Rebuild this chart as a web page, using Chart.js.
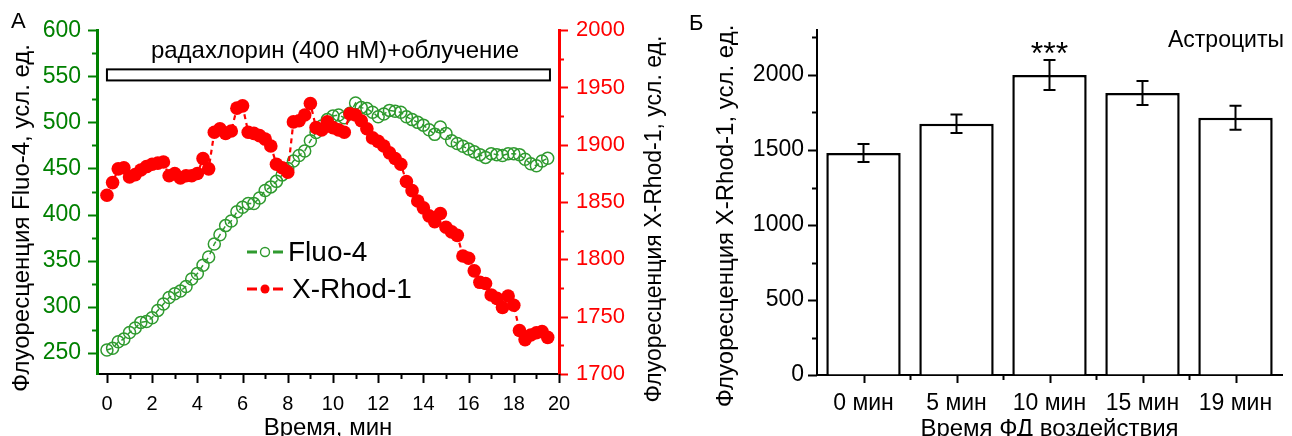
<!DOCTYPE html>
<html><head><meta charset="utf-8">
<script src="https://cdn.jsdelivr.net/npm/chart.js@4.4.1/dist/chart.umd.min.js"></script>
<style>
html,body{margin:0;padding:0;background:#fff;overflow:hidden}
#wrap{position:relative;width:1292px;height:436px;background:#fff}
#cA{position:absolute;left:0;top:0}
#cB{position:absolute;left:680px;top:0}
</style></head><body>
<div id="wrap"><canvas id="cA" width="680" height="436"></canvas><canvas id="cB" width="612" height="436"></canvas></div>
<script>
// ---- Panel A data ----
const timeMin = [0,0.25,0.5,0.75,1,1.25,1.5,1.75,2,2.25,2.5,2.75,3,3.25,3.5,3.75,4,4.25,4.5,4.75,5,5.25,5.5,5.75,6,6.25,6.5,6.75,7,7.25,7.5,7.75,8,8.25,8.5,8.75,9,9.25,9.5,9.75,10,10.25,10.5,10.75,11,11.25,11.5,11.75,12,12.25,12.5,12.75,13,13.25,13.5,13.75,14,14.25,14.5,14.75,15,15.25,15.5,15.75,16,16.25,16.5,16.75,17,17.25,17.5,17.75,18,18.25,18.5,18.75,19,19.25,19.5];
const fluo4 = [253,255,262,265,272,277,283,284,288,296,303,310,314,317,322,330,336,345,354,368,378,388,393,403,408,412,412,418,426,430,436,443,450,458,464,469,480,489,496,503,507,508,505,510,521,516,515,511,506,509,513,512,511,506,503,500,497,492,487,495,488,480,477,474,471,468,465,462,466,465,464,466,466,465,460,455,453,458,461];
const xRhod1 = [1856,1867,1879,1880,1872,1874,1878,1881,1883,1884,1885,1873,1875,1871,1873,1873,1875,1888,1879,1911,1914,1910,1912,1932,1934,1911,1910,1908,1905,1899,1883,1880,1876,1920,1921,1926,1936,1915,1913,1920,1915,1913,1911,1927,1926,1921,1914,1906,1903,1899,1893,1888,1883,1868,1860,1851,1845,1838,1833,1840,1828,1824,1821,1803,1801,1790,1780,1779,1769,1766,1758,1768,1760,1738,1730,1734,1736,1737,1732];
const timeTicks = [0,1,2,3,4,5,6,7,8,9,10,11,12,13,14,15,16,17,18,19,20];
const fluoTicks = [250,275,300,325,350,375,400,425,450,475,500,525,550,575,600];
const rhodTicks = [1700,1725,1750,1775,1800,1825,1850,1875,1900,1925,1950,1975,2000];
const treatmentLabel = 'радахлорин (400 нМ)+облучение';
const treatmentSpan = [0, 19.6];

// ---- Panel B data ----
const barCategories = ['0 мин','5 мин','10 мин','15 мин','19 мин'];
const barValues = [1480,1675,2000,1880,1715];
const barErrors = [60,62,100,80,80];
const barTicks = [0,250,500,750,1000,1250,1500,1750,2000,2250];

const FONT = "'Liberation Sans', Arial, sans-serif";
const GREEN = '#008000', RED = '#ff0000', LGREEN = '#2f9a2f';

function tickMarks(ctx, scale, values, isMajor, side, color, width) {
  ctx.save();
  ctx.strokeStyle = color; ctx.lineWidth = width;
  values.forEach(v => {
    const len = isMajor(v) ? 9 : 5;
    const p = scale.getPixelForValue(v);
    ctx.beginPath();
    if (side === 'left') { ctx.moveTo(scale.right, Math.round(p)+0.5); ctx.lineTo(scale.right - len, Math.round(p)+0.5); }
    else if (side === 'right') { ctx.moveTo(scale.left, Math.round(p)+0.5); ctx.lineTo(scale.left + len, Math.round(p)+0.5); }
    else { ctx.moveTo(Math.round(p)+0.5, scale.top); ctx.lineTo(Math.round(p)+0.5, scale.top + len); }
    ctx.stroke();
  });
  ctx.restore();
}
function vText(ctx, text, x, y, size, color) {
  ctx.save();
  ctx.translate(x, y); ctx.rotate(-Math.PI/2);
  ctx.font = size + 'px ' + FONT; ctx.fillStyle = color;
  ctx.textAlign = 'center'; ctx.textBaseline = 'middle';
  ctx.fillText(text, 0, 0);
  ctx.restore();
}

const decorA = {
  id: 'decorA',
  afterDraw(chart) {
    const ctx = chart.ctx, s = chart.scales;
    tickMarks(ctx, s.y, fluoTicks, v => v % 50 === 0, 'left', GREEN, 2);
    tickMarks(ctx, s.y1, rhodTicks, v => v % 50 === 0, 'right', RED, 2);
    tickMarks(ctx, s.x, timeTicks, v => v % 2 === 0, 'down', '#000', 2);
    // treatment bar
    const x0 = s.x.getPixelForValue(treatmentSpan[0]), x1 = s.x.getPixelForValue(treatmentSpan[1]);
    const yT = s.y.getPixelForValue(557.5), yB = s.y.getPixelForValue(545.5);
    ctx.save();
    ctx.fillStyle = '#fff'; ctx.strokeStyle = '#000'; ctx.lineWidth = 2;
    ctx.fillRect(x0, yT, x1 - x0, yB - yT); ctx.strokeRect(x0, yT, x1 - x0, yB - yT);
    ctx.font = '24px ' + FONT; ctx.fillStyle = '#000'; ctx.textAlign = 'center'; ctx.textBaseline = 'alphabetic';
    ctx.fillText(treatmentLabel, 335, 58);
    // legend
    const items = [
      {y: 252, color: LGREEN, text: 'Fluo-4', filled: false, tx: 288},
      {y: 289, color: RED, text: 'X-Rhod-1', filled: true, tx: 292}
    ];
    items.forEach(it => {
      ctx.strokeStyle = it.color; ctx.lineWidth = 3;
      ctx.beginPath(); ctx.moveTo(247, it.y); ctx.lineTo(257, it.y); ctx.moveTo(273, it.y); ctx.lineTo(283, it.y); ctx.stroke();
      ctx.beginPath(); ctx.arc(265, it.y, 4.5, 0, Math.PI*2);
      if (it.filled) { ctx.fillStyle = it.color; ctx.fill(); }
      else { ctx.lineWidth = 1.4; ctx.stroke(); }
      ctx.fillStyle = '#000'; ctx.font = '28px ' + FONT; ctx.textAlign = 'left'; ctx.textBaseline = 'middle';
      ctx.fillText(it.text, it.tx, it.y + 1);
    });
    // titles
    vText(ctx, 'Флуоресценция Fluo-4, усл. ед.', 22, 218, 24, '#000');
    vText(ctx, 'Флуоресценция X-Rhod-1, усл. ед.', 655, 219, 23, '#000');
    ctx.font = '24px ' + FONT; ctx.fillStyle = '#000'; ctx.textAlign = 'center'; ctx.textBaseline = 'alphabetic';
    ctx.fillText('Время, мин', (chart.chartArea.left + chart.chartArea.right) / 2, 435);
    ctx.font = '22px ' + FONT; ctx.textAlign = 'left';
    ctx.fillText('А', 11, 28);
    ctx.restore();
  }
};

new Chart(document.getElementById('cA'), {
  type: 'line',
  data: { datasets: [
    { label: 'X-Rhod-1', data: timeMin.map((t, i) => ({x: t, y: xRhod1[i]})), yAxisID: 'y1', order: 0,
      borderColor: RED, borderWidth: 2.2, borderDash: [5, 4], tension: 0,
      pointRadius: 6.8, pointBackgroundColor: RED, pointBorderColor: RED, pointBorderWidth: 0 },
    { label: 'Fluo-4', data: timeMin.map((t, i) => ({x: t, y: fluo4[i]})), yAxisID: 'y', order: 1,
      borderColor: LGREEN, borderWidth: 1.5, borderDash: [5, 4], tension: 0,
      pointRadius: 6, pointBackgroundColor: 'rgba(255,255,255,0)', pointBorderColor: LGREEN, pointBorderWidth: 1.5 }
  ]},
  options: {
    responsive: false, animation: false, devicePixelRatio: 1,
    layout: { padding: { top: 30, left: 0, right: 0, bottom: 0 } },
    plugins: { legend: { display: false }, tooltip: { enabled: false } },
    scales: {
      x: { type: 'linear', position: 'bottom', min: -0.44, max: 20,
        afterBuildTicks: sc => { sc.ticks = timeTicks.map(v => ({value: v})); },
        afterFit: sc => { sc.height = 62; },
        ticks: { autoSkip: false, maxRotation: 0, padding: 18, color: '#000', font: {family: FONT, size: 20},
          callback: v => (v % 2 === 0 ? String(v) : '') },
        grid: { display: true, drawOnChartArea: false, drawTicks: false },
        border: { display: true, color: '#000', width: 2 } },
      y: { type: 'linear', position: 'left', min: 227, max: 600,
        afterBuildTicks: sc => { sc.ticks = fluoTicks.map(v => ({value: v})); },
        afterFit: sc => { sc.width = 97; },
        ticks: { autoSkip: false, padding: 16, color: GREEN, font: {family: FONT, size: 23},
          callback: v => (v % 50 === 0 ? String(v) : '') },
        grid: { display: true, drawOnChartArea: false, drawTicks: false },
        border: { display: true, color: GREEN, width: 3 } },
      y1: { type: 'linear', position: 'right', min: 1700, max: 2000,
        afterBuildTicks: sc => { sc.ticks = rhodTicks.map(v => ({value: v})); },
        afterFit: sc => { sc.width = 121; },
        ticks: { autoSkip: false, padding: 17, color: RED, font: {family: FONT, size: 22},
          callback: v => (v % 50 === 0 ? String(v) : '') },
        grid: { display: true, drawOnChartArea: false, drawTicks: false },
        border: { display: true, color: RED, width: 3 } }
    }
  },
  plugins: [decorA]
});

const decorB = {
  id: 'decorB',
  afterDraw(chart) {
    const ctx = chart.ctx, s = chart.scales;
    tickMarks(ctx, s.y, barTicks, v => v % 500 === 0, 'left', '#000', 2);
    // category ticks: centres (major) and boundaries (minor)
    ctx.save();
    ctx.strokeStyle = '#000'; ctx.lineWidth = 2;
    const meta = chart.getDatasetMeta(0);
    barCategories.forEach((c, i) => {
      const xc = s.x.getPixelForValue(i);
      ctx.beginPath(); ctx.moveTo(Math.round(xc)+0.5, s.x.top); ctx.lineTo(Math.round(xc)+0.5, s.x.top + 8); ctx.stroke();
      if (i < barCategories.length - 1) {
        const xb = (xc + s.x.getPixelForValue(i + 1)) / 2;
        ctx.beginPath(); ctx.moveTo(Math.round(xb)+0.5, s.x.top); ctx.lineTo(Math.round(xb)+0.5, s.x.top + 5); ctx.stroke();
      }
    });
    // error bars
    ctx.lineWidth = 2;
    barValues.forEach((v, i) => {
      const x = meta.data[i].x;
      const yt = s.y.getPixelForValue(v + barErrors[i]), yb = s.y.getPixelForValue(v - barErrors[i]);
      ctx.beginPath();
      ctx.moveTo(x, yt); ctx.lineTo(x, yb);
      ctx.moveTo(x - 6, yt); ctx.lineTo(x + 6, yt);
      ctx.moveTo(x - 6, yb); ctx.lineTo(x + 6, yb);
      ctx.stroke();
    });
    // significance mark
    ctx.fillStyle = '#000'; ctx.textAlign = 'center'; ctx.textBaseline = 'alphabetic';
    ctx.font = '32px ' + FONT;
    ctx.fillText('***', meta.data[2].x, 64);
    ctx.font = '23px ' + FONT;
    ctx.fillText('Астроциты', 546, 47);
    vText(ctx, 'Флуоресценция X-Rhod-1, усл. ед.', 46, 216, 24, '#000');
    ctx.font = '24px ' + FONT; ctx.textAlign = 'center';
    ctx.fillText('Время ФД воздействия', (chart.chartArea.left + chart.chartArea.right) / 2, 436);
    ctx.font = '22px ' + FONT; ctx.textAlign = 'left';
    ctx.fillText('Б', 9, 30);
    ctx.restore();
  }
};

new Chart(document.getElementById('cB'), {
  type: 'bar',
  data: { labels: barCategories, datasets: [{ data: barValues, backgroundColor: '#fff', borderColor: '#000', borderWidth: 2.5,
    barPercentage: 0.8, categoryPercentage: 1 }] },
  options: {
    responsive: false, animation: false, devicePixelRatio: 1,
    layout: { padding: { top: 30, left: 0, right: 10, bottom: 0 } },
    plugins: { legend: { display: false }, tooltip: { enabled: false } },
    scales: {
      x: { type: 'category',
        afterFit: sc => { sc.height = 61; },
        ticks: { padding: 15, color: '#000', font: {family: FONT, size: 23}, maxRotation: 0, autoSkip: false },
        grid: { display: true, drawOnChartArea: false, drawTicks: false, offset: true },
        border: { display: true, color: '#000', width: 2 } },
      y: { type: 'linear', min: 0, max: 2300,
        afterBuildTicks: sc => { sc.ticks = barTicks.map(v => ({value: v})); },
        afterFit: sc => { sc.width = 137; },
        ticks: { autoSkip: false, padding: 13, color: '#000', font: {family: FONT, size: 23},
          callback: v => (v % 500 === 0 ? String(v) : '') },
        grid: { display: true, drawOnChartArea: false, drawTicks: false },
        border: { display: true, color: '#000', width: 2 } }
    }
  },
  plugins: [decorB]
});
</script>
</body></html>
